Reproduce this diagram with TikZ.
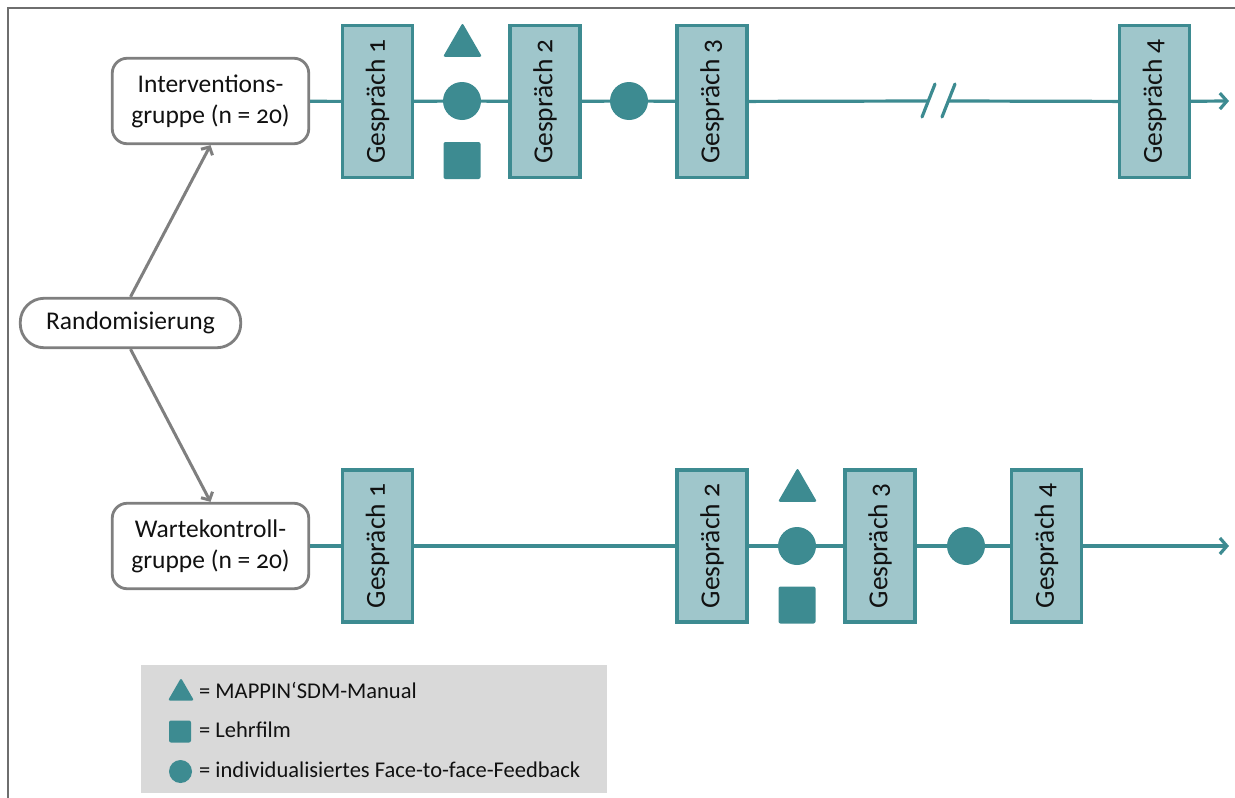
\documentclass[tikz,border=0pt]{standalone}
\usepackage{fontspec}
\setmainfont[Numbers=OldStyle]{Carlito}
\usepackage{tikz}
\usetikzlibrary{positioning}
\usetikzlibrary{shapes.geometric}
\usetikzlibrary{arrows.meta}

\definecolor{tealline}{HTML}{3D8B91}
\definecolor{tealfill}{HTML}{9FC6CB}
\definecolor{framegray}{HTML}{7F7F7F}
\definecolor{edgegray}{HTML}{6E6E6E}
\definecolor{legendgray}{HTML}{D9D9D9}
\definecolor{textdark}{HTML}{111111}

\begin{document}
\begin{tikzpicture}[
  x=1pt,y=-1pt,
  every node/.style={font=\fontsize{25.5}{31}\selectfont,text=textdark},
  group/.style={draw=framegray,line width=2.8pt,rounded corners=15pt,fill=white,
    align=center,minimum width=196.5pt,minimum height=85.5pt,inner sep=0pt},
  random/.style={draw=framegray,line width=2.8pt,rounded corners=24pt,fill=white,
    minimum width=220.5pt,minimum height=49.5pt,inner sep=0pt},
  talk/.style={draw=tealline,fill=tealfill,line width=3.2pt,rotate=90,
    minimum width=152pt,minimum height=70pt,inner sep=0pt,
    font=\fontsize{27.5}{30}\selectfont},
  feedback/.style={circle,fill=tealline,minimum size=38pt,inner sep=0pt},
  film/.style={fill=tealline,rounded corners=2pt,minimum size=37pt,inner sep=0pt},
  manual/.style={regular polygon,regular polygon sides=3,fill=tealline,
    rounded corners=2pt,minimum size=45pt,inner sep=0pt,outer sep=0pt},
  flow/.style={draw=tealline,line width=3.2pt},
  flowend/.style={flow,-{Straight Barb[length=7pt,width=16pt]}},
  assign/.style={draw=framegray,line width=3pt,-{Straight Barb[length=6pt,width=13pt]}},
  key/.style={anchor=west,inner sep=0pt,font=\fontsize{22.5}{26}\selectfont}
  ]
  \useasboundingbox (0,0) rectangle (1235,798);

  % frame
  \coordinate (frametr) at (1235,8);
  \coordinate (frametl) at (8,8);
  \coordinate (framebl) at (8,798);
  \draw [edgegray,line width=2pt] (frametr) -- (frametl) -- (framebl);

  % groups
  \node (rand) [random] at (130.5,323) {Randomisierung};
  \node (int)  [group]  at (210.5,101) {Interventions-\\gruppe (n = 20)};
  \node (wait) [group]  at (210.5,546) {Wartekontroll-\\gruppe (n = 20)};
  \draw [assign] (rand.north) -- (int.south);
  \draw [assign] (rand.south) -- (wait.north);

  % intervention group
  \node (ig1)   [talk]     at (377.5,101.5) {Gespräch 1};
  \node (ig2)   [talk]     at (545,101.5)   {Gespräch 2};
  \node (ig3)   [talk]     at (712,101.5)   {Gespräch 3};
  \node (ig4)   [talk]     at (1154.5,101.5) {Gespräch 4};
  \node (itri)  [manual]   at (462.5,45.5) {};
  \node (ifb1)  [feedback] at (462,101) {};
  \node (ifilm) [film]     at (462,160.5) {};
  \node (ifb2)  [feedback] at (629,101) {};
  \coordinate (brkl) at (928,101);
  \coordinate (brkr) at (949,101);
  \coordinate (sl1a) at (922,117);
  \coordinate (sl1b) at (935,84);
  \coordinate (sl2a) at (942,117);
  \coordinate (sl2b) at (955,84);
  \coordinate (iend) at (1229,101);
  \draw [flow] (int) -- (ig1) -- (ifb1) -- (ig2) -- (ifb2) -- (ig3) -- (brkl);
  \draw [flow,line cap=round] (sl1a) -- (sl1b);
  \draw [flow,line cap=round] (sl2a) -- (sl2b);
  \draw [flow] (brkr) -- (ig4);
  \draw [flowend] (ig4) -- (iend);

  % waiting control group
  \node (wg1)   [talk]     at (377.5,546) {Gespräch 1};
  \node (wg2)   [talk]     at (712,546)   {Gespräch 2};
  \node (wg3)   [talk]     at (880,546)   {Gespräch 3};
  \node (wg4)   [talk]     at (1046.5,546) {Gespräch 4};
  \node (wtri)  [manual]   at (797.5,490.5) {};
  \node (wfb1)  [feedback] at (797,546) {};
  \node (wfilm) [film]     at (797,605) {};
  \node (wfb2)  [feedback] at (966,546) {};
  \coordinate (wend) at (1229,546);
  \draw [flow] (wait) -- (wg1) -- (wg2) -- (wfb1) -- (wg3) -- (wfb2) -- (wg4);
  \draw [flowend] (wg4) -- (wend);

  % legend
  \node (legend) [fill=legendgray,minimum width=466pt,minimum height=128pt,inner sep=0pt] at (374,729) {};
  \node (ltri)  [manual,minimum size=30pt] at (181,693) {};
  \node (lfilm) [film,minimum size=22pt]   at (180,731.5) {};
  \node (lfb)   [feedback,minimum size=23pt] at (180.5,771.5) {};
  \node (lmanualtext)   [key] at (199,690) {= MAPPIN‘SDM-Manual};
  \node (lfilmtext)     [key] at (199,730) {= Lehrfilm};
  \node (lfeedbacktext) [key] at (199,770) {= individualisiertes Face-to-face-Feedback};
\end{tikzpicture}
\end{document}
